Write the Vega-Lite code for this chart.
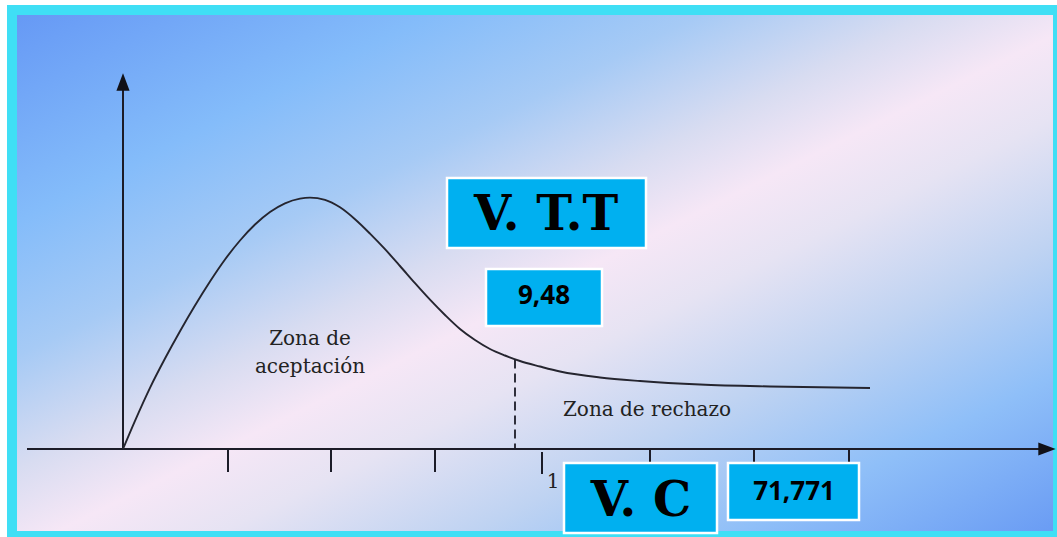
{
  "$schema": "https://vega.github.io/schema/vega-lite/v6.json",
  "width": 1057,
  "height": 537,
  "autosize": {"type": "fit", "contains": "padding"},
  "padding": 0,
  "background": "white",
  "config": {"view": {"stroke": null}},
  "datasets": {
    "frame": [{"x": 7, "x2": 1057, "y": 5, "y2": 537}],
    "bg": [{"x": 17, "x2": 1053, "y": 15, "y2": 531}],
    "axes": [
      {"x": 123, "y": 449, "x2": 123, "y2": 88},
      {"x": 27, "y": 449, "x2": 1040, "y2": 449}
    ],
    "ticks": [
      {"x": 228, "y": 449, "y2": 472},
      {"x": 331, "y": 449, "y2": 472},
      {"x": 435, "y": 449, "y2": 472},
      {"x": 542, "y": 452, "y2": 474},
      {"x": 650, "y": 449, "y2": 472},
      {"x": 754, "y": 449, "y2": 472},
      {"x": 849, "y": 449, "y2": 472}
    ],
    "arrowUp": [{"x": 123, "y": 82}],
    "arrowRight": [{"x": 1047, "y": 449}],
    "curve": [
      {"x": 123, "y": 449}, {"x": 135, "y": 420.8}, {"x": 150, "y": 387.8},
      {"x": 165, "y": 358.5}, {"x": 180, "y": 331.2}, {"x": 195, "y": 305.5},
      {"x": 210, "y": 281.5}, {"x": 225, "y": 259.5}, {"x": 240, "y": 240.5},
      {"x": 255, "y": 224.5}, {"x": 270, "y": 212}, {"x": 285, "y": 203.3},
      {"x": 300, "y": 198.6}, {"x": 310, "y": 197.6}, {"x": 325, "y": 199.8},
      {"x": 340, "y": 207.3}, {"x": 355, "y": 219.2}, {"x": 370, "y": 233.6},
      {"x": 385, "y": 249.2}, {"x": 400, "y": 266}, {"x": 415, "y": 283.2},
      {"x": 430, "y": 299.7}, {"x": 445, "y": 315}, {"x": 460, "y": 329},
      {"x": 475, "y": 340}, {"x": 490, "y": 349}, {"x": 505, "y": 355.5},
      {"x": 520, "y": 361}, {"x": 540, "y": 366.5}, {"x": 560, "y": 371.5},
      {"x": 600, "y": 377.5}, {"x": 640, "y": 381}, {"x": 700, "y": 384.5},
      {"x": 770, "y": 386.5}, {"x": 870, "y": 388}
    ],
    "dash": [{"x": 515, "y": 359.5, "y2": 449}],
    "zones": [
      {"x": 310, "y": 339, "label": "Zona de"},
      {"x": 310, "y": 367, "label": "aceptación"},
      {"x": 647, "y": 410, "label": "Zona de rechazo"},
      {"x": 553, "y": 482, "label": "1"}
    ],
    "boxes": [
      {"x": 447, "x2": 646, "y": 178, "y2": 248},
      {"x": 486, "x2": 602, "y": 269, "y2": 326},
      {"x": 564, "x2": 717, "y": 463, "y2": 533},
      {"x": 728, "x2": 859, "y": 463, "y2": 520}
    ],
    "heads": [
      {"x": 546, "y": 216, "label": "V. T.T"},
      {"x": 641, "y": 502, "label": "V. C"}
    ],
    "nums": [
      {"x": 544, "y": 296, "label": "9,48"},
      {"x": 794, "y": 492, "label": "71,771"}
    ]
  },
  "layer": [
    {
      "data": {"name": "frame"},
      "mark": {"type": "rect", "fill": "#3fdff5"},
      "encoding": {
        "x": {"field": "x", "type": "quantitative", "scale": {"domain": [0, 1057], "nice": false, "zero": false}, "axis": null},
        "x2": {"field": "x2"},
        "y": {"field": "y", "type": "quantitative", "scale": {"domain": [0, 537], "nice": false, "zero": false, "reverse": true}, "axis": null},
        "y2": {"field": "y2"}
      }
    },
    {
      "data": {"name": "bg"},
      "mark": {
        "type": "rect",
        "fill": {
          "gradient": "linear", "x1": 0, "y1": 0, "x2": 1, "y2": 1,
          "stops": [
            {"offset": 0, "color": "#6699f5"},
            {"offset": 0.2, "color": "#84bcfa"},
            {"offset": 0.33, "color": "#a6caf5"},
            {"offset": 0.44, "color": "#d8dcf1"},
            {"offset": 0.52, "color": "#f6e7f6"},
            {"offset": 0.6, "color": "#e6e3f3"},
            {"offset": 0.72, "color": "#bfd3f2"},
            {"offset": 0.85, "color": "#8fbff8"},
            {"offset": 1, "color": "#6a9cf4"}
          ]
        }
      },
      "encoding": {
        "x": {"field": "x", "type": "quantitative"},
        "x2": {"field": "x2"},
        "y": {"field": "y", "type": "quantitative"},
        "y2": {"field": "y2"}
      }
    },
    {
      "data": {"name": "axes"},
      "mark": {"type": "rule", "stroke": "#1c1c28", "strokeWidth": 2},
      "encoding": {
        "x": {"field": "x", "type": "quantitative"},
        "x2": {"field": "x2"},
        "y": {"field": "y", "type": "quantitative"},
        "y2": {"field": "y2"}
      }
    },
    {
      "data": {"name": "ticks"},
      "mark": {"type": "rule", "stroke": "#1c1c28", "strokeWidth": 2},
      "encoding": {
        "x": {"field": "x", "type": "quantitative"},
        "y": {"field": "y", "type": "quantitative"},
        "y2": {"field": "y2"}
      }
    },
    {
      "data": {"name": "arrowUp"},
      "mark": {"type": "point", "shape": "M 0 -1.45 L 1.1 1.45 L -1.1 1.45 Z", "filled": true, "fill": "#111118", "opacity": 1, "size": 144},
      "encoding": {
        "x": {"field": "x", "type": "quantitative"},
        "y": {"field": "y", "type": "quantitative"}
      }
    },
    {
      "data": {"name": "arrowRight"},
      "mark": {"type": "point", "shape": "M 1.45 0 L -1.45 1.1 L -1.45 -1.1 Z", "filled": true, "fill": "#111118", "opacity": 1, "size": 144},
      "encoding": {
        "x": {"field": "x", "type": "quantitative"},
        "y": {"field": "y", "type": "quantitative"}
      }
    },
    {
      "data": {"name": "curve"},
      "mark": {"type": "line", "interpolate": "monotone", "stroke": "#25252f", "strokeWidth": 1.9},
      "encoding": {
        "x": {"field": "x", "type": "quantitative"},
        "y": {"field": "y", "type": "quantitative"}
      }
    },
    {
      "data": {"name": "dash"},
      "mark": {"type": "rule", "stroke": "#1c1c28", "strokeWidth": 1.8, "strokeDash": [9, 5]},
      "encoding": {
        "x": {"field": "x", "type": "quantitative"},
        "y": {"field": "y", "type": "quantitative"},
        "y2": {"field": "y2"}
      }
    },
    {
      "data": {"name": "zones"},
      "mark": {"type": "text", "font": "DejaVu Serif", "fontSize": 20, "fill": "#222222", "align": "center", "baseline": "middle"},
      "encoding": {
        "x": {"field": "x", "type": "quantitative"},
        "y": {"field": "y", "type": "quantitative"},
        "text": {"field": "label"}
      }
    },
    {
      "data": {"name": "boxes"},
      "mark": {"type": "rect", "fill": "#00b0f0", "stroke": "white", "strokeWidth": 2.5},
      "encoding": {
        "x": {"field": "x", "type": "quantitative"},
        "x2": {"field": "x2"},
        "y": {"field": "y", "type": "quantitative"},
        "y2": {"field": "y2"}
      }
    },
    {
      "data": {"name": "heads"},
      "mark": {"type": "text", "font": "DejaVu Serif", "fontWeight": "bold", "fontSize": 48, "fill": "black", "align": "center", "baseline": "middle"},
      "encoding": {
        "x": {"field": "x", "type": "quantitative"},
        "y": {"field": "y", "type": "quantitative"},
        "text": {"field": "label"}
      }
    },
    {
      "data": {"name": "nums"},
      "mark": {"type": "text", "font": "Open Sans", "fontWeight": "bold", "fontSize": 26, "fill": "black", "align": "center", "baseline": "middle"},
      "encoding": {
        "x": {"field": "x", "type": "quantitative"},
        "y": {"field": "y", "type": "quantitative"},
        "text": {"field": "label"}
      }
    }
  ]
}
